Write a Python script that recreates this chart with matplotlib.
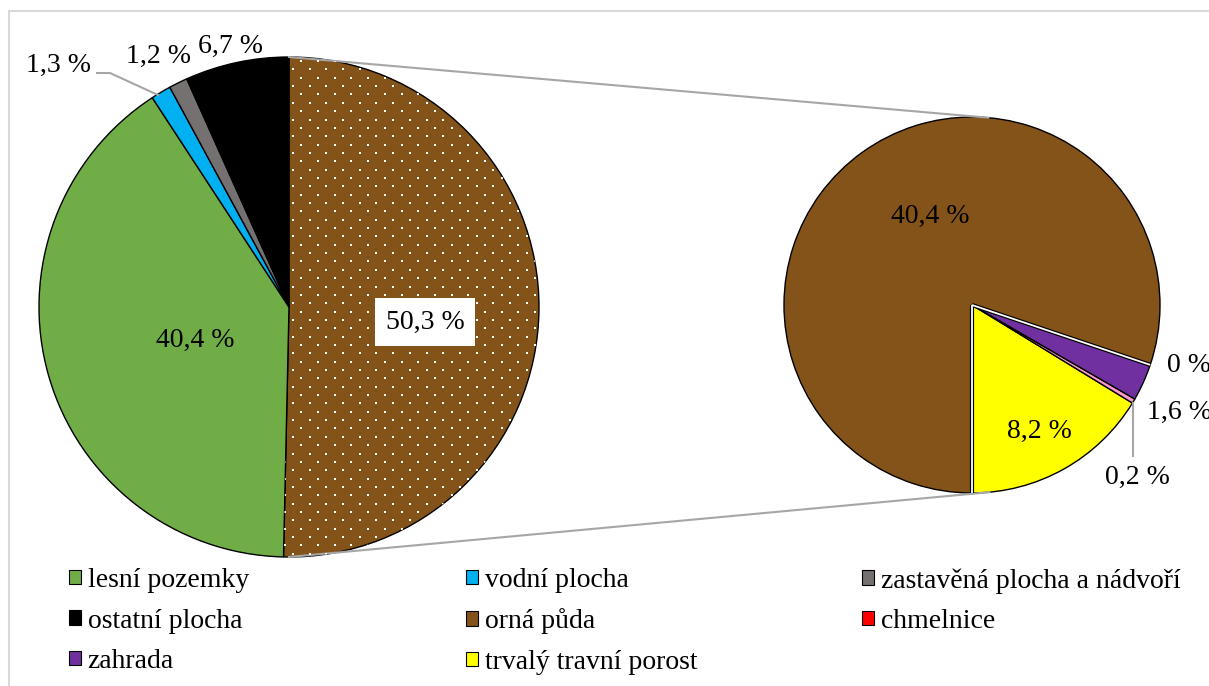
import matplotlib
matplotlib.use('Agg')
import matplotlib.pyplot as plt
import numpy as np
from matplotlib.patches import Patch, Rectangle

plt.rcParams['font.family'] = ['Liberation Serif', 'DejaVu Serif']

# ---- data ----
main_labels = ['zemědělská půda', 'lesní pozemky', 'vodní plocha',
               'zastavěná plocha a nádvoří', 'ostatní plocha']
main_values = [50.3, 40.4, 1.3, 1.2, 6.7]
main_colors = ['#84531A', '#70AD47', '#00B0F0', '#767171', '#000000']

sub_labels = ['trvalý travní porost', 'ovocný sad', 'zahrada', 'chmelnice', 'orná půda']
sub_values = [8.2, 0.2, 1.6, 0.0, 40.4]
sub_colors = ['#FFFF00', '#FF99CC', '#7030A0', '#FF0000', '#84531A']

legend_rows = [['lesní pozemky', 'vodní plocha', 'zastavěná plocha a nádvoří'],
               ['ostatní plocha', 'orná půda', 'chmelnice'],
               ['zahrada', 'trvalý travní porost']]

W, H = 1209, 686
FS = 20


def fmt(v):
    s = f"{v:.1f}".replace('.', ',')
    if s.endswith(',0'):
        s = s[:-2]
    return s + ' %'


def sy(y):  # screen y -> data y
    return H - y


fig = plt.figure(figsize=(W / 100, H / 100), dpi=100)
ax = fig.add_axes([0, 0, 1, 1])

# layout
c1, r1 = (289, sy(307)), 250
c2, r2 = (972, sy(305)), 188

wedges1, _ = ax.pie(main_values, colors=main_colors, startangle=90, counterclock=False,
                    center=c1, radius=r1,
                    wedgeprops=dict(edgecolor='black', linewidth=1.0))
wedges2, _ = ax.pie(sub_values, colors=sub_colors, startangle=-90, counterclock=True,
                    center=c2, radius=r2,
                    wedgeprops=dict(edgecolor='black', linewidth=1.0))

# dotted pattern on the aggregated slice
gx0, gy0, dx, dyr = 293, 537, 16.7, 8.35
pts = []
for i, yy in enumerate(np.arange(gy0 - 70 * dyr, gy0 + 2 * dyr, dyr)):
    off = 0 if i % 2 == 0 else dx / 2
    for xx in np.arange(gx0 - dx + off, gx0 + 16 * dx, dx):
        pts.append((xx, sy(yy)))
pts = np.array(pts)
sc = ax.scatter(pts[:, 0], pts[:, 1], s=3.2, marker='s', c='white', linewidths=0, zorder=3)
sc.set_clip_path(wedges1[0])

# white separators on the edges of the "orná půda" slice
w = wedges2[4]
for ang in (w.theta1, w.theta2):
    a = np.deg2rad(ang)
    xs = [c2[0], c2[0] + r2 * np.cos(a)]
    ys = [c2[1], c2[1] + r2 * np.sin(a)]
    ax.plot(xs, ys, color='black', lw=3.0, solid_capstyle='butt', zorder=4)
    ax.plot(xs, ys, color='white', lw=1.3, solid_capstyle='butt', zorder=5)


# connector lines (tangents)
def tangent(P, C, r, upper):
    d = np.hypot(P[0] - C[0], P[1] - C[1])
    phi = np.arctan2(P[1] - C[1], P[0] - C[0])
    t = np.arccos(r / d)
    a = phi - t if upper else phi + t
    return C[0] + r * np.cos(a), C[1] + r * np.sin(a)


ptop = (c1[0], c1[1] + r1)
pbot = (c1[0], c1[1] - r1)
tt = tangent(ptop, c2, r2, True)
tb = tangent(pbot, c2, r2, False)
ax.plot([ptop[0], tt[0]], [ptop[1], tt[1]], color='#A6A6A6', lw=1.5, zorder=1)
ax.plot([pbot[0], tb[0]], [pbot[1], tb[1]], color='#A6A6A6', lw=1.5, zorder=1)

# data labels
main_pos = [(425, 322), (195, 340), (58, 65), (159, 56), (230, 46)]
for v, (x, y), i in zip(main_values, main_pos, range(5)):
    kw = {}
    if i == 0:
        kw['bbox'] = dict(boxstyle='square,pad=0.4', facecolor='white', edgecolor='none')
    ax.text(x, sy(y), fmt(v), fontsize=FS, ha='center', va='center', zorder=6, **kw)

sub_pos = [(1039, 431), (1137, 477), (1147, 412), (1167, 365), (930, 216)]
sub_ha = ['center', 'center', 'left', 'left', 'center']
for v, (x, y), ha in zip(sub_values, sub_pos, sub_ha):
    ax.text(x, sy(y), fmt(v), fontsize=FS, ha=ha, va='center', zorder=6)

# leader lines
ax.plot([97, 110, 158], [sy(73), sy(73), sy(95)], color='#A6A6A6', lw=1.5, zorder=2)
ax.plot([1133, 1133], [sy(403), sy(456)], color='#A6A6A6', lw=1.5, zorder=2)

# legend
color_of = dict(zip(main_labels + sub_labels, main_colors + sub_colors))
col_x = [69, 466, 862]
for ci, x in enumerate(col_x):
    labs = [row[ci] for row in legend_rows if len(row) > ci]
    handles = [Patch(facecolor=color_of[l], edgecolor='black', linewidth=0.8) for l in labs]
    leg = fig.legend(handles, labs, loc='upper left', bbox_to_anchor=(x / W, 1 - 568 / H),
                     fontsize=FS, frameon=False, handlelength=0.42, handleheight=0.42,
                     handletextpad=0.25, labelspacing=0.56, borderpad=0, borderaxespad=0)

# outer frame
fig.patches.append(Rectangle((9 / W, -0.1), 1.2, 1 - 11 / H + 0.1, transform=fig.transFigure,
                             fill=False, edgecolor='#D9D9D9', lw=1.5))

ax.set_xlim(0, W)
ax.set_ylim(0, H)
ax.set_aspect('equal')
ax.axis('off')

fig.savefig('out.png', dpi=100)
